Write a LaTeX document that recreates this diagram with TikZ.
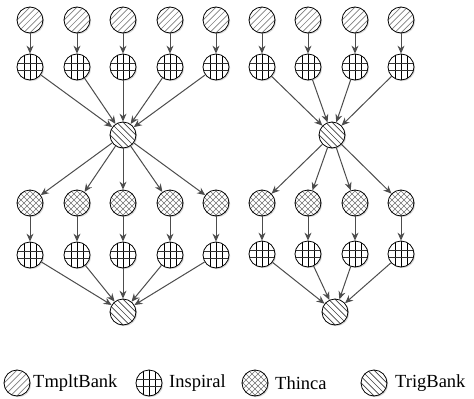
\documentclass[tikz,border=0pt]{standalone}
\usepackage{fontspec}
\setmainfont{Liberation Serif}
\usetikzlibrary{shadows,arrows.meta}
\begin{document}
\begin{tikzpicture}[x=1pt,y=-1pt,
  job/.style={circle,draw=black,line width=0.8pt,minimum size=26pt,inner sep=0pt,
    fill=white,drop shadow={opacity=0.3,shadow xshift=1.2pt,shadow yshift=-1.2pt}},
  tmplt/.style={job,path picture={
    \begin{scope}[shift={(path picture bounding box.center)}]
    \foreach \d in {-19.2,-12.8,-6.4,0,6.4,12.8,19.2}
      \draw[black!50,line width=0.7pt] (\d-20,20) -- (\d+20,-20);
    \end{scope}}},
  trig/.style={job,path picture={
    \begin{scope}[shift={(path picture bounding box.center)}]
    \foreach \d in {-19.2,-12.8,-6.4,0,6.4,12.8,19.2}
      \draw[black!75,line width=0.7pt] (\d-20,-20) -- (\d+20,20);
    \end{scope}}},
  thin/.style={job,path picture={
    \begin{scope}[shift={(path picture bounding box.center)}]
    \foreach \d in {-24,-18,-12,-6,0,6,12,18,24}{
      \draw[black!55,line width=0.5pt] (\d-20,-20) -- (\d+20,20);
      \draw[black!55,line width=0.5pt] (\d-20,20) -- (\d+20,-20);}
    \end{scope}}},
  insp/.style={job,path picture={
    \begin{scope}[shift={(path picture bounding box.center)}]
    \foreach \d in {-6,0,6}
      \draw[black,line width=0.8pt] (\d,-15) -- (\d,15);
    \foreach \d in {-3.5,3.5}
      \draw[black!80,line width=0.8pt] (-15,\d) -- (15,\d);
    \end{scope}}},
  arr/.style={draw=black!70,line width=1pt,-{Stealth[length=8pt,width=7pt]}},
  lab/.style={anchor=west,inner sep=0pt,font=\fontsize{18.5}{20}\selectfont}]
\useasboundingbox (0,0) rectangle (474,399);
% left graph
\foreach \i/\x in {1/30,2/77,3/123,4/170,5/216}{
  \node[tmplt] (lt\i) at (\x,20) {};
  \node[insp] (li\i) at (\x,67) {};
  \node[thin] (lh\i) at (\x,203) {};
  \node[insp] (lj\i) at (\x,255) {};
}
\node[trig] (lg) at (123,135) {};
\node[trig] (lb) at (123,312) {};
\foreach \i in {1,...,5}{
  \draw[arr] (lt\i) -- (li\i);
  \draw[arr] (li\i) -- (lg);
  \draw[arr] (lg) -- (lh\i);
  \draw[arr] (lh\i) -- (lj\i);
  \draw[arr] (lj\i) -- (lb);
}
% right graph
\foreach \i/\x in {1/262,2/308,3/355,4/401}{
  \node[tmplt] (rt\i) at (\x,20) {};
  \node[insp] (ri\i) at (\x,67) {};
  \node[thin] (rh\i) at (\x,203) {};
  \node[insp] (rj\i) at (\x,254) {};
}
\node[trig] (rg) at (332,135) {};
\node[trig] (rb) at (335,312) {};
\foreach \i in {1,...,4}{
  \draw[arr] (rt\i) -- (ri\i);
  \draw[arr] (ri\i) -- (rg);
  \draw[arr] (rg) -- (rh\i);
  \draw[arr] (rh\i) -- (rj\i);
  \draw[arr] (rj\i) -- (rb);
}
% legend
\node[tmplt] (k1) at (17,383) {};
\node[lab] (t1) at (33,383) {TmpltBank};
\node[insp] (k2) at (149,383) {};
\node[lab] (t2) at (169,383) {Inspiral};
\node[thin] (k3) at (255,383) {};
\node[lab] (t3) at (275,383) {Thinca};
\node[trig] (k4) at (374,383) {};
\node[lab] (t4) at (395,383) {TrigBank};
\end{tikzpicture}
\end{document}
